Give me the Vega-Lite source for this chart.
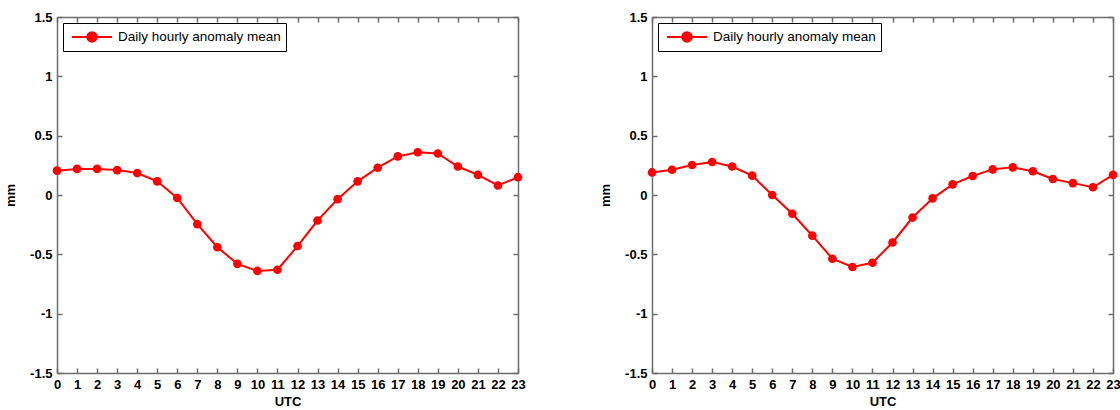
{
  "$schema": "https://vega.github.io/schema/vega-lite/v6.json",
  "background": "white",
  "padding": {"left": 4, "top": 11, "right": 5, "bottom": 5},
  "datasets": {
    "left": [
      {"utc": 0, "mm": 0.205, "series": "Daily hourly anomaly mean"},
      {"utc": 1, "mm": 0.22, "series": "Daily hourly anomaly mean"},
      {"utc": 2, "mm": 0.22, "series": "Daily hourly anomaly mean"},
      {"utc": 3, "mm": 0.21, "series": "Daily hourly anomaly mean"},
      {"utc": 4, "mm": 0.185, "series": "Daily hourly anomaly mean"},
      {"utc": 5, "mm": 0.115, "series": "Daily hourly anomaly mean"},
      {"utc": 6, "mm": -0.025, "series": "Daily hourly anomaly mean"},
      {"utc": 7, "mm": -0.245, "series": "Daily hourly anomaly mean"},
      {"utc": 8, "mm": -0.44, "series": "Daily hourly anomaly mean"},
      {"utc": 9, "mm": -0.58, "series": "Daily hourly anomaly mean"},
      {"utc": 10, "mm": -0.64, "series": "Daily hourly anomaly mean"},
      {"utc": 11, "mm": -0.63, "series": "Daily hourly anomaly mean"},
      {"utc": 12, "mm": -0.43, "series": "Daily hourly anomaly mean"},
      {"utc": 13, "mm": -0.215, "series": "Daily hourly anomaly mean"},
      {"utc": 14, "mm": -0.035, "series": "Daily hourly anomaly mean"},
      {"utc": 15, "mm": 0.115, "series": "Daily hourly anomaly mean"},
      {"utc": 16, "mm": 0.23, "series": "Daily hourly anomaly mean"},
      {"utc": 17, "mm": 0.325, "series": "Daily hourly anomaly mean"},
      {"utc": 18, "mm": 0.36, "series": "Daily hourly anomaly mean"},
      {"utc": 19, "mm": 0.35, "series": "Daily hourly anomaly mean"},
      {"utc": 20, "mm": 0.24, "series": "Daily hourly anomaly mean"},
      {"utc": 21, "mm": 0.17, "series": "Daily hourly anomaly mean"},
      {"utc": 22, "mm": 0.08, "series": "Daily hourly anomaly mean"},
      {"utc": 23, "mm": 0.15, "series": "Daily hourly anomaly mean"}
    ],
    "right": [
      {"utc": 0, "mm": 0.19, "series": "Daily hourly anomaly mean"},
      {"utc": 1, "mm": 0.213, "series": "Daily hourly anomaly mean"},
      {"utc": 2, "mm": 0.253, "series": "Daily hourly anomaly mean"},
      {"utc": 3, "mm": 0.278, "series": "Daily hourly anomaly mean"},
      {"utc": 4, "mm": 0.24, "series": "Daily hourly anomaly mean"},
      {"utc": 5, "mm": 0.163, "series": "Daily hourly anomaly mean"},
      {"utc": 6, "mm": 0.0, "series": "Daily hourly anomaly mean"},
      {"utc": 7, "mm": -0.158, "series": "Daily hourly anomaly mean"},
      {"utc": 8, "mm": -0.343, "series": "Daily hourly anomaly mean"},
      {"utc": 9, "mm": -0.537, "series": "Daily hourly anomaly mean"},
      {"utc": 10, "mm": -0.607, "series": "Daily hourly anomaly mean"},
      {"utc": 11, "mm": -0.571, "series": "Daily hourly anomaly mean"},
      {"utc": 12, "mm": -0.4, "series": "Daily hourly anomaly mean"},
      {"utc": 13, "mm": -0.19, "series": "Daily hourly anomaly mean"},
      {"utc": 14, "mm": -0.028, "series": "Daily hourly anomaly mean"},
      {"utc": 15, "mm": 0.09, "series": "Daily hourly anomaly mean"},
      {"utc": 16, "mm": 0.16, "series": "Daily hourly anomaly mean"},
      {"utc": 17, "mm": 0.216, "series": "Daily hourly anomaly mean"},
      {"utc": 18, "mm": 0.233, "series": "Daily hourly anomaly mean"},
      {"utc": 19, "mm": 0.2, "series": "Daily hourly anomaly mean"},
      {"utc": 20, "mm": 0.135, "series": "Daily hourly anomaly mean"},
      {"utc": 21, "mm": 0.1, "series": "Daily hourly anomaly mean"},
      {"utc": 22, "mm": 0.065, "series": "Daily hourly anomaly mean"},
      {"utc": 23, "mm": 0.17, "series": "Daily hourly anomaly mean"}
    ]
  },
  "hconcat": [
    {
      "width": 461,
      "height": 356,
      "data": {"name": "left"},
      "resolve": {"axis": {"x": "independent", "y": "independent"}},
      "layer": [
        {
          "mark": {"type": "line", "strokeWidth": 2, "point": {"filled": true, "size": 75}},
          "encoding": {
            "x": {"field": "utc", "type": "quantitative", "scale": {"domain": [0, 23], "nice": false},
              "axis": {"title": "UTC", "values": [0,1,2,3,4,5,6,7,8,9,10,11,12,13,14,15,16,17,18,19,20,21,22,23], "labelFlush": false, "titlePadding": 4}},
            "y": {"field": "mm", "type": "quantitative", "scale": {"domain": [-1.5, 1.5], "nice": false, "zero": false},
              "axis": {"title": "mm", "values": [-1.5,-1,-0.5,0,0.5,1,1.5], "labelExpr": "toString(datum.value)", "labelFlush": false, "titlePadding": 12}},
            "color": {"field": "series", "type": "nominal", "scale": {"range": ["#ff0000"]},
              "legend": {"title": null, "orient": "top-left", "offset": 6}}
          }
        },
        {
          "mark": {"type": "point", "opacity": 0},
          "encoding": {
            "x": {"field": "utc", "type": "quantitative", "axis": {"orient": "top", "title": null, "labels": false, "values": [0,1,2,3,4,5,6,7,8,9,10,11,12,13,14,15,16,17,18,19,20,21,22,23]}},
            "y": {"field": "mm", "type": "quantitative", "axis": {"orient": "right", "title": null, "labels": false, "values": [-1.5,-1,-0.5,0,0.5,1,1.5]}}
          }
        }
      ]
    },
    {
      "width": 461,
      "height": 356,
      "data": {"name": "right"},
      "resolve": {"axis": {"x": "independent", "y": "independent"}},
      "layer": [
        {
          "mark": {"type": "line", "strokeWidth": 2, "point": {"filled": true, "size": 75}},
          "encoding": {
            "x": {"field": "utc", "type": "quantitative", "scale": {"domain": [0, 23], "nice": false},
              "axis": {"title": "UTC", "values": [0,1,2,3,4,5,6,7,8,9,10,11,12,13,14,15,16,17,18,19,20,21,22,23], "labelFlush": false, "titlePadding": 4}},
            "y": {"field": "mm", "type": "quantitative", "scale": {"domain": [-1.5, 1.5], "nice": false, "zero": false},
              "axis": {"title": "mm", "values": [-1.5,-1,-0.5,0,0.5,1,1.5], "labelExpr": "toString(datum.value)", "labelFlush": false, "titlePadding": 12}},
            "color": {"field": "series", "type": "nominal", "scale": {"range": ["#ff0000"]},
              "legend": {"title": null, "orient": "top-left", "offset": 6}}
          }
        },
        {
          "mark": {"type": "point", "opacity": 0},
          "encoding": {
            "x": {"field": "utc", "type": "quantitative", "axis": {"orient": "top", "title": null, "labels": false, "values": [0,1,2,3,4,5,6,7,8,9,10,11,12,13,14,15,16,17,18,19,20,21,22,23]}},
            "y": {"field": "mm", "type": "quantitative", "axis": {"orient": "right", "title": null, "labels": false, "values": [-1.5,-1,-0.5,0,0.5,1,1.5]}}
          }
        }
      ]
    }
  ],
  "resolve": {"scale": {"color": "independent"}, "legend": {"color": "independent"}},
  "config": {
    "concat": {"spacing": 73},
    "view": {"stroke": null},
    "font": "Liberation Sans",
    "axis": {
      "grid": false,
      "domainColor": "#6e6e6e",
      "domainWidth": 1.5,
      "tickColor": "#6e6e6e",
      "tickWidth": 1.5,
      "tickSize": -5,
      "labelPadding": 10,
      "labelFont": "Liberation Sans",
      "labelFontSize": 13,
      "labelFontWeight": "bold",
      "labelColor": "#000000",
      "titleFont": "Liberation Sans",
      "titleFontSize": 13,
      "titleFontWeight": "bold",
      "titleColor": "#000000"
    },
    "legend": {
      "strokeColor": "#000000",
      "fillColor": "#ffffff",
      "padding": 5,
      "labelFont": "Liberation Sans",
      "labelFontSize": 13.5,
      "labelLimit": 400,
      "labelColor": "#000000",
      "symbolType": "M-2.5,0H2.5M0.6,0A0.6,0.6 0 1,1 -0.6,0A0.6,0.6 0 1,1 0.6,0Z",
      "symbolSize": 256,
      "symbolStrokeWidth": 2,
      "symbolStrokeColor": "#ff0000",
      "symbolFillColor": "#ff0000",
      "symbolOffset": 15,
      "labelOffset": 17
    }
  }
}
